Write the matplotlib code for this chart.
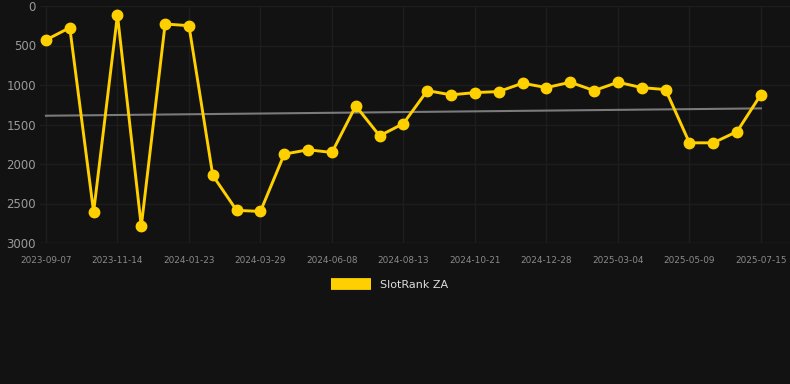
import numpy as np
import matplotlib.pyplot as plt

# =========================
# DATA
# =========================
rank = [430, 274, 2608, 114, 2790, 228, 249, 2145, 2587, 2600,
        1875, 1820, 1854, 1264, 1643, 1488, 1071, 1125, 1096, 1083,
        977, 1033, 965, 1071, 965, 1033, 1058, 1732, 1732, 1589, 1121]
tick_labels = ['2023-09-07', '2023-11-14', '2024-01-23', '2024-03-29',
               '2024-06-08', '2024-08-13', '2024-10-21', '2024-12-28',
               '2025-03-04', '2025-05-09', '2025-07-15']
series_name = 'SlotRank ZA'

bg = '#121212'
yellow = '#FFD000'

x = np.arange(len(rank))
# linear trend line of the rank series
coef = np.polyfit(x, rank, 1)
trend = np.polyval(coef, x)

# =========================
# PLOT
# =========================
fig = plt.figure(figsize=(7.9, 3.84), dpi=100, facecolor=bg)
ax = fig.add_axes([40 / 790, 141 / 384, 750 / 790, 237 / 384], facecolor=bg)

ax.plot(x, trend, color='#7a7a7a', linewidth=1.5, zorder=2)
ax.plot(x, rank, color=yellow, linewidth=2.1, marker='o', markersize=7.5,
        solid_joinstyle='miter', label=series_name, zorder=3)

ax.set_xlim(-0.25, 31.22)
ax.set_ylim(3000, 0)
ax.set_yticks(np.arange(0, 3001, 500))
ax.set_xticks(x[::3])
ax.set_xticklabels(tick_labels)

ax.grid(True, color='#1d1d1d', linewidth=1.0)
ax.set_axisbelow(True)
for s in ax.spines.values():
    s.set_visible(False)
ax.axhline(3000, color='#303030', linewidth=0.9, zorder=1)
ax.tick_params(axis='y', length=0, pad=3, labelsize=8.5, labelcolor='#9a9a9a')
ax.tick_params(axis='x', length=0, pad=9.5, labelsize=6.4, labelcolor='#8a8a8a')

leg = ax.legend(loc='upper center', bbox_to_anchor=(350 / 750, -0.112),
                frameon=False, handlelength=3.6, handleheight=1.0,
                fontsize=8, labelcolor='#dddddd')
for h in leg.legend_handles:
    h.set_marker('')
    h.set_linewidth(8.5)
    h.set_solid_capstyle('butt')

fig.savefig('out.png', dpi=100, facecolor=bg)
